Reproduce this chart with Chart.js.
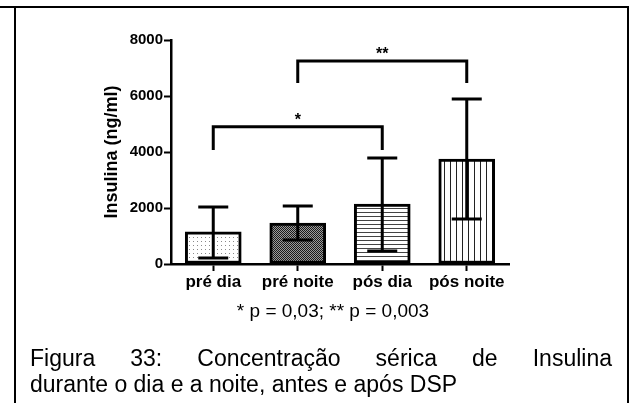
<!DOCTYPE html>
<html>
<head>
<meta charset="utf-8">
<script src="https://cdn.jsdelivr.net/npm/chart.js@4.4.1/dist/chart.umd.min.js"></script>
<style>
  html, body { margin: 0; padding: 0; background: #fff; }
  #wrap { position: relative; width: 634px; height: 403px; overflow: hidden; font-family: "Liberation Sans", Arial, sans-serif; }
  #chart { position: absolute; left: 0; top: 0; }
  .line { position: absolute; background: #000; }
  .txt { position: absolute; color: #000; white-space: nowrap; }
</style>
</head>
<body>
<div id="wrap">
  <canvas id="chart" width="634" height="403"></canvas>
  <div class="line" style="left:0; top:6px; width:629px; height:2px;"></div>
  <div class="line" style="left:14px; top:6px; width:2px; height:397px;"></div>
  <div class="line" style="left:627px; top:6px; width:2px; height:397px;"></div>
  <div class="txt" style="left:233px; top:300px; width:200px; text-align:center; font-size:19px; line-height:22px;">* p = 0,03; ** p = 0,003</div>
  <div class="txt" style="left:30px; top:345px; width:582px; font-size:23px; line-height:26px; text-align:justify; text-align-last:justify; white-space:normal;">Figura 33: Concentração sérica de Insulina</div>
  <div class="txt" style="left:30px; top:371px; font-size:23px; line-height:26px;">durante o dia e a noite, antes e após DSP</div>
</div>
<script>
// values (ng/ml)
const categories = ["pré dia", "pré noite", "pós dia", "pós noite"];
const means = [1150, 1460, 2140, 3750];
const errHigh = [2040, 2070, 3790, 5890];
const errLow = [210, 860, 460, 1610];
const yTicks = [0, 2000, 4000, 6000, 8000];

// significance brackets: from category, to category, bar height, leg end, label
const brackets = [
  { from: 0, to: 2, top: 4900, leg: 4070, label: "*" },
  { from: 1, to: 3, top: 7250, leg: 6460, label: "**" },
];

const FONT = "'Liberation Sans', Arial, sans-serif";

function makePattern(kind) {
  const c = document.createElement("canvas");
  const g = c.getContext("2d");
  if (kind === "dots") {
    c.width = 4; c.height = 4;
    g.fillStyle = "#fff"; g.fillRect(0, 0, 4, 4);
    g.fillStyle = "#8a8a8a"; g.fillRect(1, 1, 1, 1);
  } else if (kind === "checker") {
    c.width = 2; c.height = 2;
    g.fillStyle = "#9a9a9a"; g.fillRect(0, 0, 2, 2);
    g.fillStyle = "#1a1a1a"; g.fillRect(0, 0, 1, 1); g.fillRect(1, 1, 1, 1);
  } else if (kind === "hlines") {
    c.width = 4; c.height = 4;
    g.fillStyle = "#fff"; g.fillRect(0, 0, 4, 4);
    g.fillStyle = "#444"; g.fillRect(0, 0, 4, 1);
  } else {
    c.width = 6; c.height = 6;
    g.fillStyle = "#fff"; g.fillRect(0, 0, 6, 6);
    g.fillStyle = "#222"; g.fillRect(0, 0, 1, 6);
  }
  return g.createPattern(c, "repeat");
}

const ctx = document.getElementById("chart").getContext("2d");
const fills = [makePattern("dots"), makePattern("checker"), makePattern("hlines"), makePattern("vlines")];

const errorBars = {
  id: "errorBars",
  afterDatasetsDraw(chart) {
    const g = chart.ctx;
    const y = chart.scales.y;
    const meta = chart.getDatasetMeta(0);
    g.save();
    g.strokeStyle = "#000";
    g.lineWidth = 3;
    meta.data.forEach((bar, i) => {
      const x = bar.x;
      const hi = y.getPixelForValue(errHigh[i]);
      const lo = y.getPixelForValue(errLow[i]);
      g.beginPath();
      g.moveTo(x, hi); g.lineTo(x, lo);
      g.moveTo(x - 15, hi); g.lineTo(x + 15, hi);
      g.moveTo(x - 15, lo); g.lineTo(x + 15, lo);
      g.stroke();
    });
    // brackets
    g.font = "bold 16px " + FONT;
    g.fillStyle = "#000";
    g.textAlign = "center";
    g.textBaseline = "alphabetic";
    brackets.forEach(b => {
      const x1 = meta.data[b.from].x;
      const x2 = meta.data[b.to].x;
      const yt = y.getPixelForValue(b.top);
      const yl = y.getPixelForValue(b.leg);
      g.beginPath();
      g.moveTo(x1, yl); g.lineTo(x1, yt); g.lineTo(x2, yt); g.lineTo(x2, yl);
      g.stroke();
      g.fillText(b.label, (x1 + x2) / 2, yt - 2);
    });
    g.restore();
  }
};

new Chart(ctx, {
  type: "bar",
  data: {
    labels: categories,
    datasets: [{
      data: means,
      backgroundColor: fills,
      borderColor: "#000",
      borderWidth: 3,
      borderSkipped: false,
      barThickness: 56,
    }]
  },
  options: {
    responsive: false,
    animation: false,
    layout: { padding: { left: 100, top: 40, right: 125, bottom: 99 } },
    plugins: { legend: { display: false }, tooltip: { enabled: false } },
    scales: {
      x: {
        grid: { offset: false, drawOnChartArea: false, drawTicks: true, tickLength: 7, tickWidth: 2, tickColor: "#000" },
        border: { display: true, color: "#000", width: 2.5 },
        ticks: { color: "#000", padding: 1, font: { family: FONT, size: 17, weight: "bold" } },
        afterFit: (s) => { s.height = 40; },
      },
      y: {
        min: 0, max: 8000,
        afterBuildTicks: (s) => { s.ticks = yTicks.map(v => ({ value: v })); },
        grid: { drawOnChartArea: false, drawTicks: true, tickLength: 7, tickWidth: 2, tickColor: "#000" },
        border: { display: true, color: "#000", width: 2.5 },
        ticks: { color: "#000", padding: 1, callback: (v) => String(v), font: { family: FONT, size: 15, weight: "bold" } },
        title: { display: true, text: "Insulina (ng/ml)", color: "#000", padding: { top: 1, bottom: 0 }, font: { family: FONT, size: 18, weight: "bold" } },
        afterFit: (s) => { s.width = 71; },
      }
    }
  },
  plugins: [errorBars]
});
</script>
</body>
</html>
